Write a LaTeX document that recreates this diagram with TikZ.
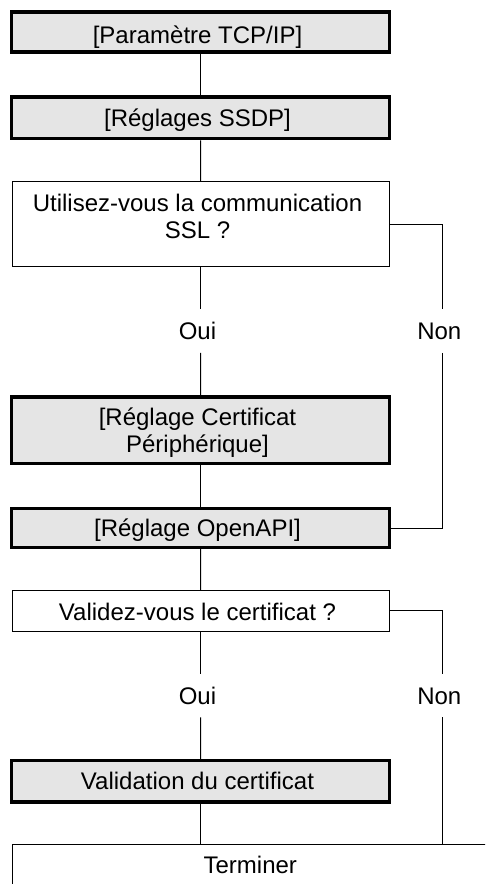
\documentclass[tikz,border=0pt]{standalone}
\usepackage{fontspec}
\setmainfont{Liberation Sans}
\begin{document}
\begin{tikzpicture}[x=1pt,y=-1pt,
  font=\fontsize{24}{27}\selectfont,
  heavybox/.style={draw=black, line width=3.4pt, fill=black!10, minimum width=377.6pt, inner sep=0pt},
  lightbox/.style={draw=black, line width=1pt, fill=white, minimum width=377.3pt, inner sep=0pt},
  boxtext/.style={anchor=base, align=center, inner sep=0pt},
  answer/.style={inner sep=0pt, minimum height=43.4pt, text height=17.2pt, text depth=0pt},
  conn/.style={draw=black, line width=1pt}]
\useasboundingbox (0,0) rectangle (485,884);
\clip (0,0) rectangle (485,884);
\fill[white] (0,0) rectangle (485,884);

% boxes
\node[heavybox, minimum height=40pt]   (b1) at (200.5,32) {};
\node[heavybox, minimum height=41.7pt] (b2) at (200.5,117.85) {};
\node[lightbox, minimum height=85.4pt] (b3) at (200.65,224) {};
\node[heavybox, minimum height=66.7pt] (b4) at (200.5,430.35) {};
\node[heavybox, minimum height=38.6pt] (b5) at (200.5,528) {};
\node[lightbox, minimum height=40.3pt] (b6) at (200.65,610.85) {};
\node[heavybox, minimum height=41.5pt] (b7) at (200.5,781.25) {};
\node[lightbox, minimum width=476.6pt, minimum height=41.4pt, text height=17.2pt, text depth=0pt] (b8) at (250.3,864.7) {Terminer};

% texts (base anchor = last line's baseline)
\node[boxtext] (t1) at (197.5,43.3) {[Paramètre TCP/IP]};
\node[boxtext] (t2) at (197.5,126.7) {[Réglages SSDP]};
\node[boxtext] (t3) at (197.5,238.3) {Utilisez-vous la communication\\SSL ?};
\node[boxtext] (t4) at (197.5,452.3) {[Réglage Certificat\\Périphérique]};
\node[boxtext] (t5) at (197.5,536.7) {[Réglage OpenAPI]};
\node[boxtext] (t6) at (197.5,620) {Validez-vous le certificat ?};
\node[boxtext] (t7) at (197.5,789.3) {Validation du certificat};

% answers
\node[answer] (oui1) at (197.5,331) {Oui};
\node[answer] (non1) at (439.3,331) {Non};
\node[answer] (oui2) at (197.5,695.5) {Oui};
\node[answer] (non2) at (439.3,695.5) {Non};
\coordinate (nx) at (442.3,0);

% connectors
\draw[conn] (b1.south) -- (b2.north);
\draw[conn] (b2.south) -- (b3.north);
\draw[conn] (b3.south) -- (b3.south |- oui1.north);
\draw[conn] (b3.south |- oui1.south) -- (b4.north);
\draw[conn] (b3.east) -| (nx |- non1.north);
\draw[conn] (nx |- non1.south) |- (b5.east);
\draw[conn] (b4.south) -- (b5.north);
\draw[conn] (b5.south) -- (b6.north);
\draw[conn] (b6.south) -- (b6.south |- oui2.north);
\draw[conn] (b6.south |- oui2.south) -- (b7.north);
\draw[conn] (b6.east) -| (nx |- non2.north);
\draw[conn] (nx |- non2.south) -- (nx |- b8.north);
\draw[conn] (b7.south) -- (b7.south |- b8.north);
\end{tikzpicture}
\end{document}
